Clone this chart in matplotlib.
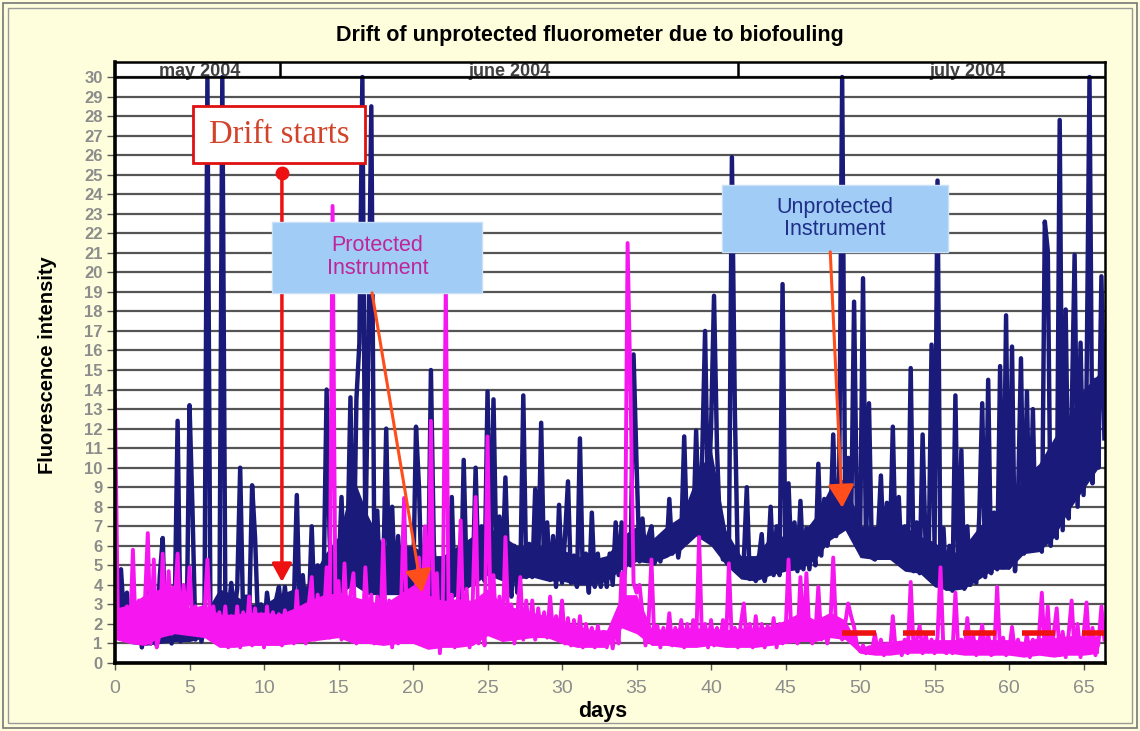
import numpy as np
import matplotlib.pyplot as plt
from matplotlib.patches import Rectangle

plt.rcParams['font.family'] = ['Liberation Sans', 'DejaVu Sans']

# logger step in days (5 readings per day)
step = 0.2

# unprotected fluorometer (navy), one row per day
unprot_a = [
    5.6, 3.0, 4.8, 2.3, 3.6,   # 0
    1.3, 3.2, 1.5, 2.6, 0.8,   # 1
    2.0, 4.2, 1.0, 2.4, 0.9,   # 2
    4.4, 6.4, 1.2, 2.5, 1.0,   # 3
    2.4, 12.4, 1.1, 2.2, 1.3,  # 4
    13.2, 7.8, 1.2, 2.6, 1.1,  # 5
    2.0, 30, 2.6, 1.2, 2.4,    # 6
    1.5, 30, 3.6, 2.5, 4.1,    # 7
    2.6, 3.8, 10.0, 2.2, 3.4,  # 8
    2.3, 9.1, 6.4, 2.0, 3.0,   # 9
    1.6, 3.6, 2.4, 1.9, 3.2,   # 10
]
unprot_b = [
    3.9, 2.4, 3.9, 2.3, 3.0,   # 11
    3.0, 8.6, 2.3, 4.5, 2.5,   # 12
    2.6, 7.0, 2.6, 5.0, 2.4,   # 13
    4.0, 14.0, 6.5, 3.0, 5.5,  # 14
    4.5, 8.5, 3.9, 6.0, 13.6,  # 15
    4.0, 13.5, 16.4, 30, 6.0,  # 16
    16.0, 28.5, 5.5, 7.8, 3.4, # 17
    4.5, 12.0, 4.2, 8.0, 3.6,  # 18
    6.5, 3.6, 7.1, 3.6, 5.5,   # 19
    3.6, 12.1, 9.0, 3.3, 5.5,  # 20
    3.0, 15.0, 5.8, 2.8, 4.5,  # 21
]
unprot_c = [
    3.0, 5.0, 2.6, 8.5, 3.5,   # 22
    5.1, 3.2, 10.4, 4.2, 6.0,  # 23
    4.0, 10.0, 4.4, 7.0, 4.2,  # 24
    13.9, 5.0, 13.5, 5.0, 7.5, # 25
    4.9, 9.5, 4.5, 3.4, 6.0,   # 26
    3.6, 4.5, 13.7, 4.4, 6.1,  # 27
    4.4, 8.9, 5.0, 12.3, 4.5,  # 28
    7.2, 4.25, 6.5, 3.9, 8.1,  # 29
    4.1, 6.5, 9.3, 4.1, 5.5,   # 30
    3.9, 11.5, 4.2, 5.6, 3.6,  # 31
    7.7, 3.9, 5.6, 3.9, 5.2,   # 32
]
unprot_d = [
    3.9, 5.6, 4.0, 7.2, 4.5,   # 33
    7.2, 4.6, 6.5, 5.0, 15.8,  # 34
    10.2, 5.2, 7.4, 5.4, 6.5,  # 35
    7.0, 5.1, 6.0, 5.2, 6.2,   # 36
    5.5, 8.4, 5.6, 7.0, 5.4,   # 37
    6.5, 11.6, 6.2, 8.0, 6.5,  # 38
    11.9, 7.0, 10.4, 17.0, 8.0,  # 39
    12.0, 18.8, 11.0, 6.7, 5.3,  # 40
    6.5, 5.5, 25.9, 12.8, 5.0, # 41
    4.5, 5.3, 9.0, 4.3, 5.0,   # 42
    4.2, 5.3, 6.6, 4.2, 5.0,   # 43
]
unprot_e = [
    8.0, 4.5, 7.0, 4.5, 19.4,  # 44
    5.0, 9.2, 5.2, 7.2, 4.7,   # 45
    8.3, 4.8, 6.9, 4.8, 6.5,   # 46
    5.0, 10.2, 5.5, 8.4, 6.0,  # 47
    7.0, 11.7, 6.5, 9.5, 30,   # 48
    8.0, 10.5, 7.0, 18.5, 6.8, # 49
    6.1, 19.7, 5.8, 13.3, 5.4, # 50
    5.3, 6.5, 9.6, 5.5, 8.2,   # 51
    6.0, 12.1, 5.5, 8.5, 5.0,  # 52
    7.0, 5.0, 15.1, 4.7, 7.2,  # 53
    4.6, 11.7, 6.0, 5.0, 16.3, # 54
]
unprot_f = [
    6.0, 24.7, 4.2, 6.9, 3.8,  # 55
    6.0, 3.7, 13.7, 4.0, 10.9, # 56
    3.8, 7.0, 4.0, 6.0, 4.1,   # 57
    7.5, 13.3, 4.4, 14.5, 4.6, # 58
    7.7, 4.8, 15.2, 4.9, 17.8, # 59
    4.9, 16.2, 4.7, 8.3, 15.6, # 60
    5.6, 13.9, 5.8, 13.0, 5.8, # 61
    9.8, 5.7, 22.6, 21.1, 6.0, # 62
    10.6, 6.4, 27.8, 6.8, 18.1,  # 63
    7.4, 12.5, 20.9, 8.0, 16.4,  # 64
    8.6, 14.0, 30, 9.2, 14.5,  # 65
    10.0, 19.8, 11.5,          # 66
]

# protected fluorometer (magenta)
prot_a = [
    13.4, 1.5, 2.6, 1.2, 2.9,  # 0
    1.2, 5.8, 1.3, 3.2, 1.0,   # 1
    3.0, 6.65, 1.0, 5.3, 0.8,  # 2
    1.5, 5.6, 2.0, 4.7, 1.5,   # 3
    3.0, 5.6, 1.8, 4.0, 2.2,   # 4
    4.9, 2.0, 2.9, 1.5, 1.85,  # 5
    2.5, 5.3, 1.8, 2.9, 1.5,   # 6
    2.6, 1.2, 2.9, 0.8, 2.4,   # 7
    1.0, 2.9, 0.8, 2.6, 1.2,   # 8
    3.4, 0.9, 2.8, 1.0, 2.5,   # 9
    0.8, 2.9, 1.0, 2.6, 1.2,   # 10
]
prot_b = [
    2.5, 0.9, 2.7, 1.1, 2.2,   # 11
    1.0, 3.7, 1.2, 2.8, 1.0,   # 12
    3.0, 4.4, 1.2, 3.5, 1.5,   # 13
    2.0, 4.9, 1.3, 23.4, 2.0,  # 14
    4.2, 1.2, 5.1, 1.5, 3.5,   # 15
    4.6, 1.0, 3.0, 1.2, 4.9,   # 16
    2.0, 3.5, 1.0, 3.4, 1.5,   # 17
    6.3, 1.2, 3.2, 0.8, 2.8,   # 18
    1.0, 3.0, 8.45, 1.2, 3.5,  # 19
    1.2, 4.0, 5.4, 1.0, 7.0,   # 20
    2.0, 12.4, 1.5, 4.6, 0.5,  # 21
]
prot_c = [
    3.0, 19.5, 1.2, 3.5, 0.8,  # 22
    3.0, 7.3, 1.0, 3.8, 0.8,   # 23
    3.0, 8.5, 1.0, 3.2, 0.9,   # 24
    11.6, 2.5, 4.5, 1.5, 3.4,  # 25
    1.2, 6.45, 2.0, 3.0, 1.0,  # 26
    2.5, 4.4, 1.2, 3.2, 1.5,   # 27
    3.2, 1.2, 2.8, 1.5, 2.6,   # 28
    1.3, 3.4, 1.5, 2.4, 1.5,   # 29
    3.2, 1.0, 2.3, 0.9, 2.2,   # 30
    1.0, 2.4, 0.8, 2.0, 1.2,   # 31
    1.8, 0.8, 1.9, 0.9, 1.6,   # 32
]
prot_d = [
    0.8, 1.7, 0.75, 1.9, 1.0,  # 33
    4.6, 2.5, 21.5, 13.8, 4.1, # 34
    3.6, 4.0, 2.5, 0.9, 2.0,   # 35
    5.3, 1.0, 1.9, 0.8, 1.8,   # 36
    1.0, 2.55, 0.9, 1.8, 1.0,  # 37
    2.2, 0.8, 2.0, 1.0, 2.2,   # 38
    0.9, 6.45, 1.0, 2.0, 0.8,  # 39
    2.2, 0.9, 1.8, 1.0, 2.2,   # 40
    0.9, 5.1, 1.0, 1.8, 0.8,   # 41
    2.0, 3.05, 0.9, 2.0, 0.8,  # 42
    2.4, 1.0, 2.0, 0.8, 1.9,   # 43
]
prot_e = [
    1.0, 2.3, 0.8, 2.0, 1.0,   # 44
    1.5, 5.3, 1.2, 1.8, 1.0,   # 45
    4.4, 1.2, 4.6, 1.5, 1.0,   # 46
    1.5, 3.9, 1.2, 2.0, 1.0,   # 47
    1.8, 5.4, 1.5, 2.2, 1.2,   # 48
    2.0, 3.05, 2.4, 1.85, 0.9, # 49
    0.6, 0.9, 0.5, 0.8, 0.6,   # 50
    1.5, 0.5, 1.2, 0.4, 1.0,   # 51
    0.5, 2.4, 0.6, 1.0, 0.4,   # 52
    1.2, 0.5, 4.15, 0.6, 1.2,  # 53
    1.9, 0.5, 1.5, 0.6, 1.2,   # 54
]
prot_f = [
    0.5, 1.3, 4.9, 0.6, 0.5,   # 55
    1.0, 0.5, 3.6, 0.6, 1.2,   # 56
    0.5, 2.3, 0.6, 1.4, 0.4,   # 57
    1.0, 1.95, 0.5, 1.5, 0.4,  # 58
    0.5, 3.9, 0.6, 1.3, 0.4,   # 59
    0.6, 1.85, 0.5, 1.2, 0.4,  # 60
    0.4, 1.5, 0.3, 1.2, 0.5,   # 61
    1.3, 3.6, 0.5, 2.9, 0.4,   # 62
    1.5, 2.8, 0.4, 1.6, 0.3,   # 63
    1.5, 3.2, 0.5, 2.0, 0.3,   # 64
    1.4, 3.1, 0.5, 1.8, 0.4,   # 65
    1.0, 2.9, 1.2,             # 66
]

# daily range of the dense (sub-hourly) readings, days 0..66
unprot_day_low = [
    2.3, 1.0, 0.9, 1.0, 1.1, 1.1, 1.3, 2.3, 2.2, 2.0,
    1.8, 2.2, 2.3, 2.4, 2.8, 3.5, 4.0, 3.5, 3.5, 3.5,
    3.3, 3.0, 3.0, 3.5, 4.0, 4.5, 4.2, 4.3, 4.4, 4.2,
    4.2, 4.0, 4.0, 4.2, 4.8, 5.2, 5.1, 5.4, 5.8, 6.5,
    6.0, 5.0, 4.3, 4.2, 4.5, 4.7, 4.8, 5.3, 6.3, 6.8,
    5.4, 5.3, 5.3, 4.7, 4.6, 3.9, 3.7, 3.8, 4.3, 4.8,
    4.8, 5.6, 5.7, 6.4, 7.8, 8.9, 10.0,
]
unprot_day_high = [
    4.8, 2.8, 2.2, 2.5, 2.3, 2.5, 2.5, 3.8, 3.5, 3.0,
    3.0, 3.5, 3.8, 4.0, 5.5, 6.5, 9.5, 7.5, 6.0, 6.0,
    6.0, 5.5, 5.5, 6.0, 6.5, 7.0, 6.5, 6.0, 6.0, 6.0,
    5.8, 5.5, 5.3, 5.5, 6.5, 7.0, 6.3, 7.0, 7.5, 9.5,
    11.0, 6.8, 5.5, 5.5, 6.5, 6.5, 6.5, 7.5, 9.0, 9.5,
    7.0, 7.0, 7.5, 7.0, 6.5, 6.2, 5.5, 6.0, 7.0, 7.7,
    8.3, 9.5, 10.2, 11.5, 12.6, 14.0, 14.8,
]
prot_day_low = [
    1.2, 1.0, 0.9, 1.3, 1.5, 1.4, 1.3, 0.8, 0.8, 0.9,
    0.9, 0.9, 1.0, 1.1, 1.2, 1.3, 1.0, 1.0, 0.9, 1.0,
    1.0, 0.7, 0.8, 0.8, 0.9, 1.4, 1.1, 1.2, 1.3, 1.3,
    1.0, 0.8, 0.8, 0.8, 1.8, 1.5, 0.9, 0.9, 0.8, 0.8,
    0.9, 0.8, 0.8, 0.8, 0.9, 1.0, 1.1, 1.1, 1.3, 1.2,
    0.5, 0.4, 0.4, 0.5, 0.5, 0.5, 0.5, 0.4, 0.4, 0.4,
    0.4, 0.3, 0.4, 0.3, 0.4, 0.4, 0.5,
]
prot_day_high = [
    2.8, 3.0, 3.5, 3.8, 4.0, 2.8, 3.0, 2.5, 2.5, 2.6,
    2.6, 2.5, 2.8, 3.2, 3.5, 3.6, 3.4, 3.2, 3.0, 3.5,
    4.0, 3.5, 3.2, 3.3, 3.2, 3.8, 3.0, 2.8, 2.6, 2.4,
    2.2, 1.9, 1.7, 1.7, 3.5, 3.5, 1.8, 1.7, 1.8, 1.8,
    1.8, 1.7, 1.8, 1.8, 1.9, 2.2, 2.6, 2.2, 2.6, 2.2,
    0.8, 1.0, 1.1, 1.2, 1.2, 1.2, 1.2, 1.2, 1.2, 1.2,
    1.2, 1.1, 1.3, 1.3, 1.4, 1.4, 1.4,
]

# red dashed reference level
red_start = [48.8, 52.9, 56.9, 60.9, 64.9]
red_end = [51.1, 55.0, 59.1, 63.1, 66.4]
red_level = 1.55

# month band on top
months = ['may 2004', 'june 2004', 'july 2004']
month_edges = [11.07, 41.81]
month_label_x = [5.65, 26.5, 57.2]

unprot = np.array(unprot_a + unprot_b + unprot_c + unprot_d + unprot_e + unprot_f)
prot = np.array(prot_a + prot_b + prot_c + prot_d + prot_e + prot_f)
t_unprot = np.arange(len(unprot)) * step
t_prot = np.arange(len(prot)) * step
days = np.arange(len(unprot_day_low))

navy = '#1a1a7a'
pink = '#f516f0'

fig = plt.figure(figsize=(11.4, 7.31), dpi=100, facecolor='#fefedc')
ax = fig.add_axes([0.1009, 0.0930, 0.8684, 0.8222])
ax.set_facecolor('white')

ax.set_xlim(0, 66.44)
ax.set_ylim(0, 30.77)

# grid
ax.set_yticks(range(31))
ax.yaxis.grid(True, color='#555555', lw=1.6)
ax.set_axisbelow(True)

# series
ax.fill_between(days, unprot_day_low, unprot_day_high, color=navy, lw=0, zorder=3)
ax.plot(t_unprot, unprot, color=navy, lw=3.2, zorder=3)
ax.fill_between(days, prot_day_low, prot_day_high, color=pink, lw=0, zorder=4)
ax.plot(t_prot, prot, color=pink, lw=2.8, zorder=4)
ax.hlines([red_level] * len(red_start), red_start, red_end,
          color='#ee1111', lw=4, zorder=5)

# month header
for m, mx in zip(months, month_label_x):
    ax.text(mx, 30.03, m, ha='center', va='baseline', fontsize=13,
            fontweight='bold', color='#404040', zorder=6, clip_on=True)
ax.axhline(30, color='black', lw=1.8, zorder=6)
ax.vlines(month_edges, 30, 30.77, color='black', lw=1.8, zorder=6)

# ticks
ax.set_xticks(range(0, 70, 5))
ax.tick_params(axis='y', direction='out', length=6, width=1, color='#555555',
               labelsize=12, labelcolor='#8c8c8c', pad=3)
ax.tick_params(axis='x', direction='out', length=5, width=1, color='#555555',
               labelsize=14, labelcolor='#8c8c8c', pad=7)
for lab in ax.get_yticklabels():
    lab.set_fontweight('bold')

for side in ['left', 'bottom']:
    ax.spines[side].set_linewidth(2.6)
for side in ['top', 'right']:
    ax.spines[side].set_linewidth(1.8)
for s in ax.spines.values():
    s.set_color('black')
    s.set_zorder(7)

# "Drift starts" box and arrow
ax.add_patch(Rectangle((5.23, 25.6), 11.55, 2.92, fc='white', ec='#e01010',
                       lw=2, zorder=8))
ax.text(11.0, 27.06, 'Drift starts', ha='center', va='center', fontsize=23.5,
        family='Liberation Serif', color='#d2442a', zorder=9)
ax.annotate('', xy=(11.2, 4.15), xytext=(11.2, 25.1), zorder=8,
            arrowprops=dict(arrowstyle='-|>,head_length=0.55,head_width=0.3',
                            color='#ee1111', lw=2.5, mutation_scale=20,
                            shrinkA=0, shrinkB=0))
ax.plot([11.2], [25.1], 'o', color='#ee1111', ms=9, zorder=9)

# instrument labels
ax.add_patch(Rectangle((10.54, 18.95), 14.09, 3.63, fc='#a0ccf5', ec='#c8e0f8',
                       lw=1, zorder=8))
ax.text(17.6, 20.8, 'Protected\nInstrument', ha='center', va='center',
        fontsize=15.5, color='#c0249a', linespacing=1.1, zorder=9)
ax.add_patch(Rectangle((40.74, 21.05), 15.16, 3.42, fc='#a0ccf5', ec='#c8e0f8',
                       lw=1, zorder=8))
ax.text(48.3, 22.76, 'Unprotected\nInstrument', ha='center', va='center',
        fontsize=15.5, color='#1f2f88', linespacing=1.1, zorder=9)

for start, tip in [((17.25, 18.95), (20.6, 3.6)), ((48.0, 21.05), (48.8, 7.95))]:
    ax.annotate('', xy=tip, xytext=start, zorder=8,
                arrowprops=dict(arrowstyle='-|>,head_length=0.7,head_width=0.4',
                                color='#ff4d1c', lw=2.2, mutation_scale=20,
                                shrinkA=0, shrinkB=0))

# titles
fig.text(0.517, 0.951, 'Drift of unprotected fluorometer due to biofouling',
         ha='center', va='center', fontsize=15.5, fontweight='bold')
fig.text(48 / 1140, 1 - 365 / 731, 'Fluorescence intensity', rotation=90,
         ha='center', va='center', fontsize=14.5, fontweight='bold')
fig.text(603 / 1140, 1 - 712 / 731, 'days', ha='center', va='center',
         fontsize=15.5, fontweight='bold')

# outer frame
fig.patches.append(Rectangle((3 / 1140, 3 / 731), 1 - 6 / 1140, 1 - 6 / 731,
                             transform=fig.transFigure, fill=False,
                             ec='#777777', lw=1.2))
fig.patches.append(Rectangle((8 / 1140, 8 / 731), 1 - 16 / 1140, 1 - 16 / 731,
                             transform=fig.transFigure, fill=False,
                             ec='#999999', lw=1.0))

fig.savefig('out.png', dpi=100, facecolor=fig.get_facecolor())
